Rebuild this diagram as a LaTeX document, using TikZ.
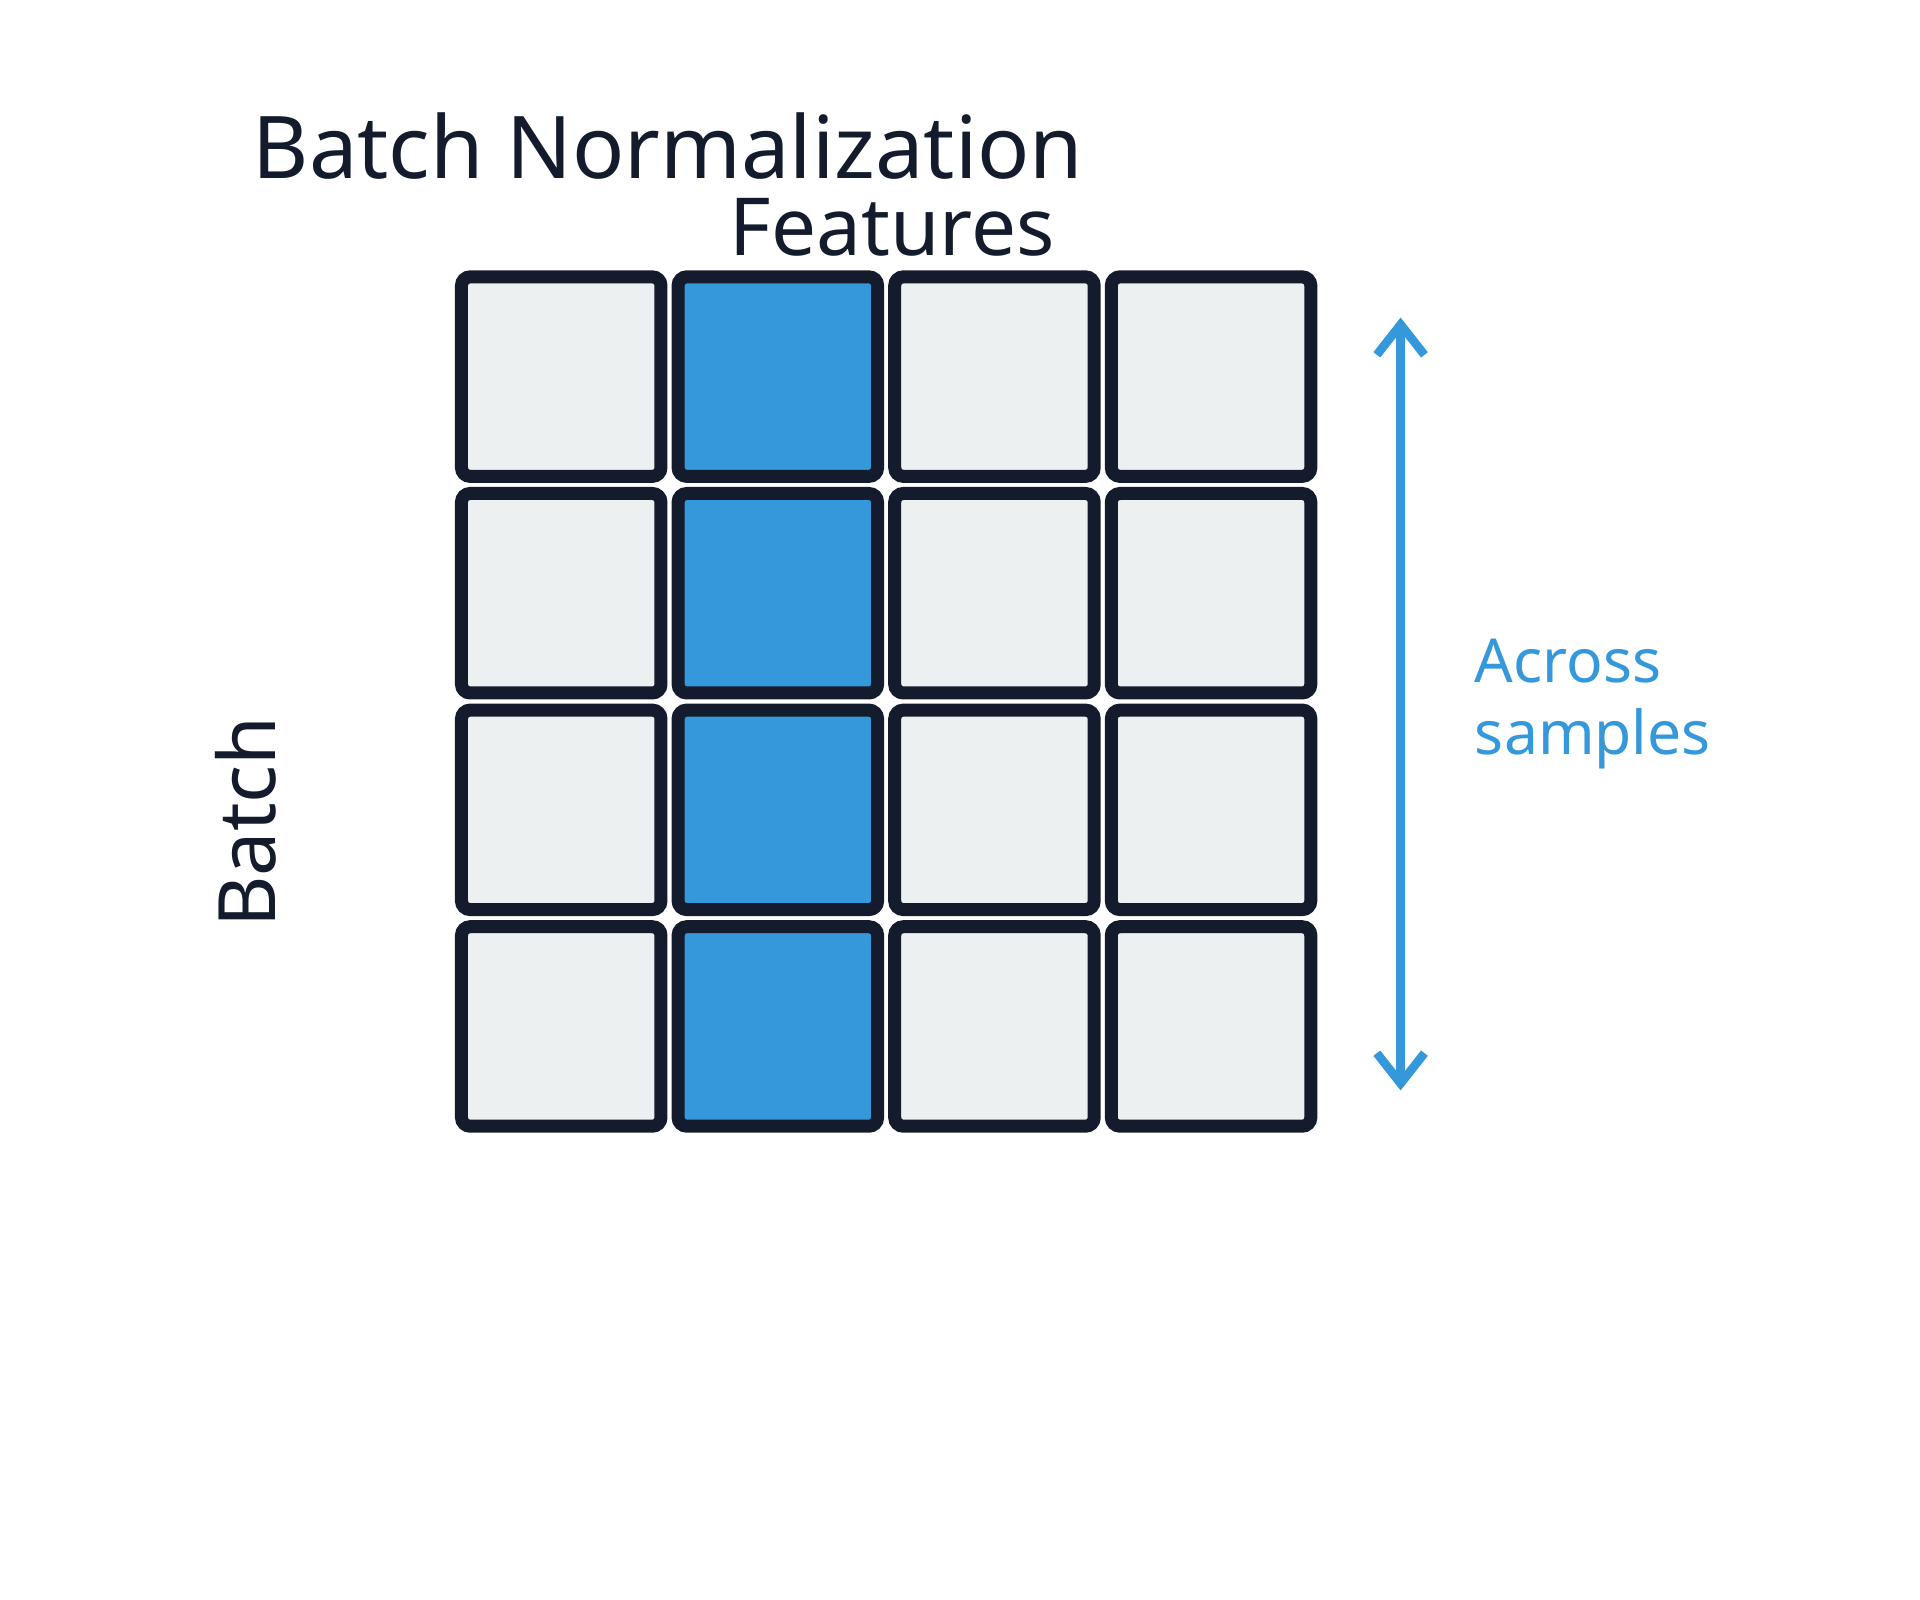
\documentclass[tikz,border=0pt]{standalone}
\usepackage{fontspec}
\setmainfont{Noto Sans}
\usetikzlibrary{arrows.meta,positioning}
\definecolor{inkdark}{HTML}{141B2D}
\definecolor{cellgray}{HTML}{ECF0F1}
\definecolor{featblue}{HTML}{3498DB}
\tikzset{
  cell/.style={draw=inkdark,line width=3pt,rounded corners=2pt,fill=cellgray,minimum size=1.62cm,inner sep=0pt},
  hot/.style={cell,fill=featblue},
}
\begin{document}
\begin{tikzpicture}[x=0.01cm,y=-0.01cm]
		\useasboundingbox (0,0) rectangle (1560,1300);
		\node[anchor=base west,font=\fontsize{20}{24}\selectfont,text=inkdark] (title) at (193,145) {Batch Normalization};
		\node[anchor=base,font=\fontsize{18.5}{22}\selectfont,text=inkdark] (feat) at (725,208) {Features};
		\foreach \i in {0,...,3}{
			\foreach \j in {0,...,3}{
				\ifnum\i=1
				\node[hot] (c-\i-\j) at (456+176*\i,306+176*\j) {};
				\else
				\node[cell] (c-\i-\j) at (456+176*\i,306+176*\j) {};
				\fi
			}
		}
		\node[rotate=90,font=\fontsize{18.3}{22}\selectfont,text=inkdark] (batch) at (200,668) {Batch};
		\coordinate (top) at (1138,258);
		\coordinate (bot) at (1138,886);
		\draw[featblue,line width=2pt,{Straight Barb[length=7pt,width=11pt]}-{Straight Barb[length=7pt,width=11pt]}] (top) -- (bot);
		\node[anchor=west,align=left,font=\fontsize{14}{16.5}\selectfont,text=featblue] (across) at (1186,572) {Across\\samples};
\end{tikzpicture}
\end{document}
